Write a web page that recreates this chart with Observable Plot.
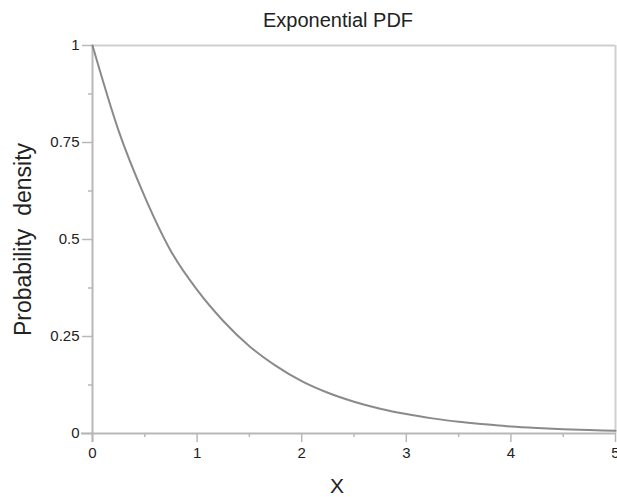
<!DOCTYPE html>
<html>
<head>
<meta charset="utf-8">
<script src="https://cdn.jsdelivr.net/npm/d3@7"></script>
<script src="https://cdn.jsdelivr.net/npm/@observablehq/plot@0.6"></script>
<style>
  html, body { margin: 0; padding: 0; background: #fff; overflow: hidden; }
  #chart { width: 617px; height: 497px; overflow: hidden; }
</style>
</head>
<body>
<div id="chart"></div>
<script>
// Values
const xs = [0, 0.25, 0.5, 0.75, 1, 1.25, 1.5, 1.75, 2, 2.25, 2.5, 2.75, 3, 3.25, 3.5, 3.75, 4, 4.25, 4.5, 4.75, 5];
const density = [1, 0.78, 0.61, 0.47, 0.37, 0.29, 0.225, 0.175, 0.135, 0.105, 0.082, 0.064, 0.05, 0.039, 0.03, 0.024, 0.018, 0.014, 0.011, 0.009, 0.007];
const xMajor = [0, 1, 2, 3, 4, 5];
const xMinor = [0.5, 1.5, 2.5, 3.5, 4.5];
const yMajor = [0, 0.25, 0.5, 0.75, 1];
const yMinor = [0.125, 0.375, 0.625, 0.875];
const titleText = "Exponential PDF";
const xLabel = "X";
const yLabel = "Probability  density";

const data = xs.map((x, i) => ({x, y: density[i]}));
const font = "Liberation Sans, Arial, Helvetica, sans-serif";
const axisColor = "#b8b8b8";

const chart = Plot.plot({
  width: 617,
  height: 497,
  marginLeft: 92,
  marginRight: 2,
  marginTop: 45,
  marginBottom: 64,
  style: {fontFamily: font, background: "#fff", overflow: "visible"},
  x: {domain: [0, 5], axis: null},
  y: {domain: [0, 1], axis: null},
  marks: [
    // frame top / right
    Plot.ruleY([1], {stroke: "#d0d0d0", strokeWidth: 2}),
    Plot.ruleX([5], {stroke: "#d0d0d0", strokeWidth: 2}),
    // axis lines
    Plot.ruleY([0], {stroke: axisColor, strokeWidth: 2, insetLeft: -11}),
    Plot.ruleX([0], {stroke: axisColor, strokeWidth: 2, insetBottom: -9}),
    // x ticks
    Plot.axisX({ticks: xMajor, tickSize: 9, tickPadding: 5, fontSize: 15, stroke: axisColor, strokeWidth: 1.5, fill: "#222", tickFormat: d => String(d), label: null}),
    Plot.axisX({ticks: xMinor, tickSize: 4, text: null, stroke: axisColor, strokeWidth: 1.5, label: null}),
    // y ticks
    Plot.axisY({ticks: yMajor, tickSize: 10, tickPadding: 3, fontSize: 15, stroke: axisColor, strokeWidth: 1.5, fill: "#222", tickFormat: d => String(d), label: null}),
    Plot.axisY({ticks: yMinor, tickSize: 4, text: null, stroke: axisColor, strokeWidth: 1.5, label: null}),
    // curve
    Plot.line(data, {x: "x", y: "y", stroke: "#8a8a8a", strokeWidth: 2, curve: "monotone-x"}),
    // title and labels
    Plot.text([titleText], {frameAnchor: "top", dy: -25, dx: -16, fontSize: 20, fill: "#222", lineAnchor: "middle"}),
    Plot.text([xLabel], {frameAnchor: "bottom", dy: 53, dx: -17, fontSize: 21, fill: "#222", lineAnchor: "middle"}),
    Plot.text([yLabel], {frameAnchor: "left", textAnchor: "middle", dx: -69, rotate: -90, fontSize: 23, fill: "#222", lineAnchor: "middle"})
  ]
});
document.getElementById("chart").appendChild(chart);
</script>
</body>
</html>
